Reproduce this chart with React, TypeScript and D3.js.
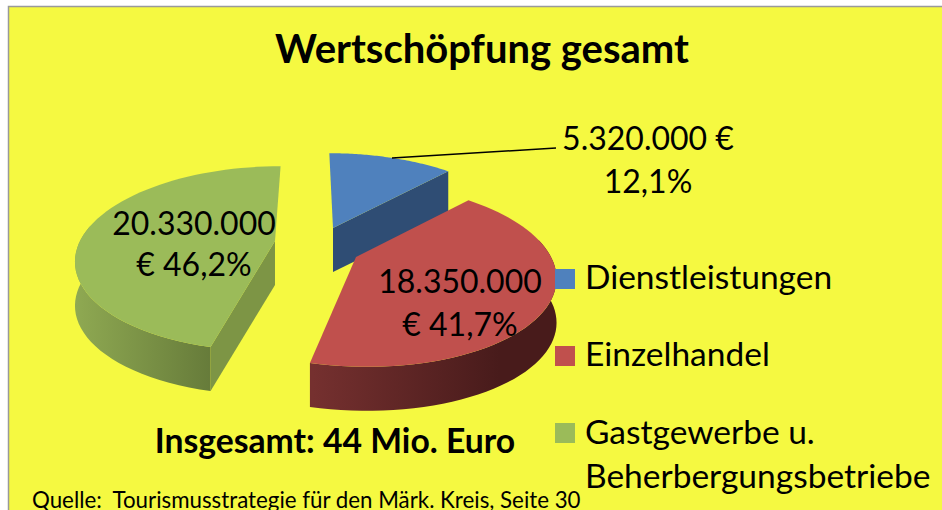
import React from "react";
import * as d3 from "d3";

const categories = ["Dienstleistungen", "Einzelhandel", "Gastgewerbe u. Beherbergungsbetriebe"];
const values = [5320000, 18350000, 20330000];
const topColors = ["#4f81bd", "#c0504d", "#9bbb59"];
const wallColors = ["#2f4d74", "#7d9545", "#7d9545"];
const outerLeft = ["#2f4d74", "#75302f", "#8fa952"];
const outerRight = ["#2f4d74", "#481b1b", "#667b3a"];
const apexes: [number, number][] = [[333, 228], [356, 257], [275, 241]];

const RX = 195, RY = 89, K = 0.19, DEPTH = 44, VANISH_X = 310;
const FONT = "Lato, 'Open Sans', sans-serif";

const project = (apex: [number, number], t: number, r = 1): [number, number] => {
  const u = Math.sin(t) * r, v = Math.cos(t) * r;
  const s = 1 / (1 + K * v);
  return [VANISH_X + (apex[0] - VANISH_X + RX * u) * s, apex[1] - RY * v * s];
};
const drop = (p: [number, number]): [number, number] => [p[0], p[1] + DEPTH];
const line = d3.line<[number, number]>().x(d => d[0]).y(d => d[1]);

const arcs = d3.pie<number>().sort(null)(values);

export default function App() {
  const slices = arcs.map((a, i) => {
    const apex = apexes[i];
    const ts = d3.range(0, 61).map(j => a.startAngle + (a.endAngle - a.startAngle) * j / 60);
    const rim = ts.map(t => project(apex, t));
    const top = line([apex, ...rim])! + "Z";
    const vis = rim.filter((_, j) => Math.cos(ts[j]) < 0.2);
    const wall = line([...vis, ...vis.map(drop).reverse()])! + "Z";
    const xs = rim.map(p => p[0]);
    const edge = i === 2 ? project(apex, a.startAngle) : i === 0 ? project(apex, a.endAngle) : null;
    const radial = edge ? line([apex, edge, drop(edge), drop(apex)])! + "Z" : null;
    return { i, top, wall: i === 0 ? null : wall, radial, x0: d3.min(xs)! };
  });
  const order = [0, 2, 1];
  const t = (x: number, y: number, s: string, size: number, w = 400, anchor = "start") => (
    <text x={x} y={y} fontSize={size} fontWeight={w} textAnchor={anchor as any} fontFamily={FONT} fill="#000" style={{ whiteSpace: "pre" }}>{s}</text>
  );
  return (
    <svg width={942} height={510} style={{ position: "absolute", left: 0, top: 0, display: "block" }}>
      <defs>
        {slices.map(s => (
          <linearGradient key={s.i} id={`g${s.i}`} gradientUnits="userSpaceOnUse" x1={s.i === 2 ? s.x0 : 313} x2={s.i === 2 ? 212 : 500} y1={0} y2={0}>
            <stop offset="0" stopColor={outerLeft[s.i]} />
            <stop offset="1" stopColor={outerRight[s.i]} />
          </linearGradient>
        ))}
      </defs>
      <rect x={0} y={0} width={942} height={510} fill="#fff" />
      <rect x={8.5} y={6.5} width={940} height={510} fill="#f5f941" stroke="#9a9a9a" strokeWidth={1.5} />
      {t(482, 63, "Wertschöpfung gesamt", 40, 700, "middle")}
      {order.map(k => {
        const s = slices[k];
        return (
          <g key={k}>
            {s.wall && <path d={s.wall} fill={`url(#g${k})`} />}
            {s.radial && <path d={s.radial} fill={wallColors[k]} />}
            <path d={s.top} fill={topColors[k]} />
          </g>
        );
      })}
      <path d="M392,158L556,148" stroke="#000" strokeWidth={1.5} fill="none" />
      {t(648, 150, "5.320.000 €", 32, 400, "middle")}
      {t(648, 193, "12,1%", 32, 400, "middle")}
      {t(194, 235, "20.330.000", 32, 400, "middle")}
      {t(194, 276, "€ 46,2%", 32, 400, "middle")}
      {t(460, 293, "18.350.000", 32, 400, "middle")}
      {t(460, 336, "€ 41,7%", 32, 400, "middle")}
      {categories.map((c, i) => (
        <rect key={c} x={555} y={[269, 346, 423][i]} width={20} height={20} fill={topColors[i]} />
      ))}
      {t(585, 289, categories[0], 33.5)}
      {t(585, 366, categories[1], 33.5)}
      {t(585, 444, "Gastgewerbe u.", 33.5)}
      {t(585, 488, "Beherbergungsbetriebe", 33.5)}
      {t(335, 453, "Insgesamt: 44 Mio. Euro", 33.7, 700, "middle")}
      {t(32, 508, "Quelle:  Tourismusstrategie für den Märk. Kreis, Seite 30", 22.3)}
    </svg>
  );
}
